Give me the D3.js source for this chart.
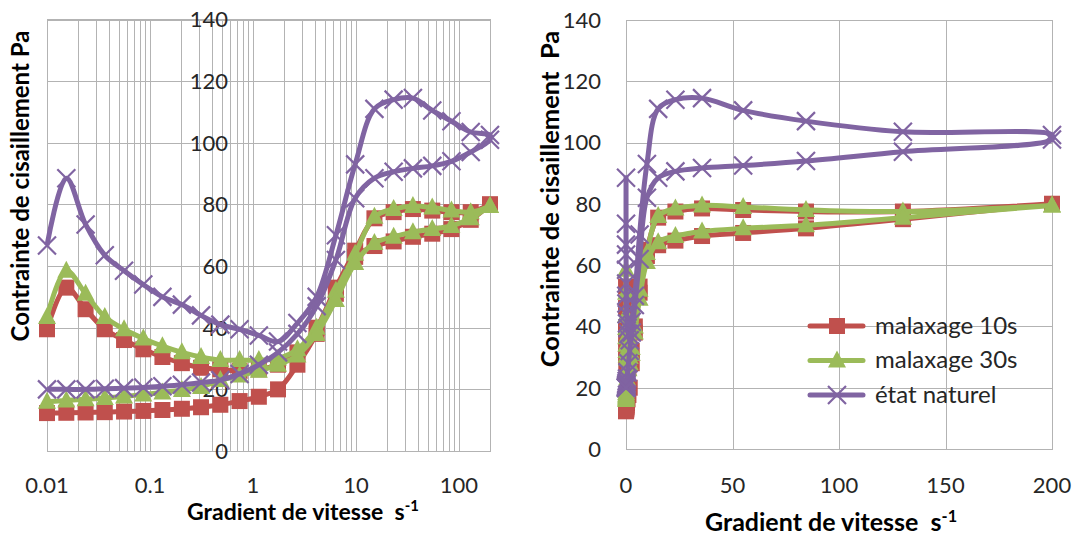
<!DOCTYPE html>
<html>
<head>
<meta charset="utf-8">
<script src="https://cdn.jsdelivr.net/npm/d3@7"></script>
<style>
    body { margin: 0; background: #fff; }
    svg text { font-family: Lato, 'Open Sans', sans-serif; fill: #262626; }
    .grid line, .frame { stroke: #b3b3b3; stroke-width: 1; fill: none; shape-rendering: crispEdges; }
    .tick-label { font-size: 22px; }
    .axis-title { font-weight: bold; fill: #000; white-space: pre; }
    .legend-label { font-size: 24px; }
</style>
</head>
<body>
<svg id="chart" width="1075" height="535"></svg>
<script>
// Shear rates of the sweep (s-1), same for the way up and the way down
const rates = [0.01, 0.0154, 0.0237, 0.0364, 0.056, 0.0861, 0.132, 0.204, 0.313, 0.482, 0.741, 1.14,
    1.75, 2.7, 4.15, 6.38, 9.82, 15.1, 23.2, 35.7, 55, 84.5, 130, 200];

// Shear stress (Pa). "up" = increasing rate, "down" = decreasing rate
const malax10_up   = [39.5, 53, 46, 39.5, 36, 33, 30.5, 28.5, 27, 26.5, 26, 26.5, 28, 32, 40, 53, 65, 75.5, 77.5, 78.5, 78, 77.5, 77.5, 80];
const malax10_down = [12.3, 12.4, 12.5, 12.6, 12.8, 13, 13.3, 13.7, 14.2, 15, 16.2, 17.6, 20, 28, 38, 51, 63, 66.5, 68, 69.5, 70.5, 72, 75, 80];
const malax30_up   = [43.5, 58.5, 51, 43.5, 39.5, 36.5, 34, 32, 30.5, 29.5, 29.5, 29.5, 30, 33, 40, 52, 64, 76, 78.5, 79.5, 79, 78, 77.5, 79.5];
const malax30_down = [16, 16.4, 16.8, 17.2, 17.7, 18.3, 19, 19.8, 20.8, 23, 24.5, 26, 28, 31, 38, 49, 61, 67.5, 69.5, 71, 72, 73, 75.5, 79.5];
const natural_up   = [66.7, 88.5, 73.5, 63.5, 58.5, 54, 50, 47.5, 44, 41, 39.5, 37.5, 35.5, 41.5, 50, 70, 93, 111, 114, 114.5, 110.5, 107, 103.5, 102.5];
const natural_down = [20, 20, 20, 20.2, 20.4, 20.6, 21, 21.5, 22.2, 23, 25, 28, 32, 38, 47, 62, 82, 88.5, 90.6, 91.7, 92.5, 94, 97, 101];

const seriesNames = ['malaxage 10s', 'malaxage 30s', 'état naturel'];
const colors = ['#c0504d', '#9bbb59', '#8064a2'];
const markers = ['square', 'triangle', 'cross'];

const stressTicks = [0, 20, 40, 60, 80, 100, 120, 140];
const logTicks = [0.01, 0.1, 1, 10, 100];
const linTicks = [0, 50, 100, 150, 200];

const series = [
    [malax10_up, malax10_down],
    [malax30_up, malax30_down],
    [natural_up, natural_down]
].map(([up, down], i) => ({
    name: seriesNames[i],
    color: colors[i],
    marker: markers[i],
    // one loop: up the rates, then back down
    points: rates.map((r, j) => [r, up[j]]).concat(rates.map((r, j) => [r, down[j]]).reverse())
}));

const svg = d3.select('#chart');

/* ===== Left chart: log scale ===== */
const logChart = {
    g: svg.append('g'),
    x: d3.scaleLog().domain([0.01, 200]).range([47, 490]),
    y: d3.scaleLinear().domain([0, 140]).range([451, 19.5]),
    yAxisAt: 1,          // vertical axis crosses at 1
    xTicks: logTicks,
    gridX: d3.scaleLog().domain([0.01, 200]).ticks(),
    xTitle: { x: 187, y: 520, size: 23 },
    yTitle: { x: 21, y: 186, size: 24, text: 'Contrainte de cisaillement Pa' }
};

/* ===== Right chart: linear scale ===== */
const linChart = {
    g: svg.append('g'),
    x: d3.scaleLinear().domain([0, 200]).range([626, 1052]),
    y: d3.scaleLinear().domain([0, 140]).range([449, 20]),
    yAxisAt: 0,
    xTicks: linTicks,
    gridX: linTicks,
    xTitle: { x: 705, y: 531, size: 25 },
    yTitle: { x: 550, y: 199, size: 25.5, text: 'Contrainte de cisaillement  Pa' }
};

[logChart, linChart].forEach(drawChart);
drawLegend(linChart);

function drawChart(c) {
    const [x0, x1] = c.x.range();
    const [y0, y1] = c.y.range();

    const grid = c.g.append('g').classed('grid', true);
    grid.selectAll('.vx')
        .data(c.gridX)
        .enter().append('line')
        .attr('x1', d => Math.round(c.x(d)) + 0.5)
        .attr('x2', d => Math.round(c.x(d)) + 0.5)
        .attr('y1', y1)
        .attr('y2', y0);
    grid.selectAll('.hy')
        .data(stressTicks)
        .enter().append('line')
        .attr('x1', x0)
        .attr('x2', x1)
        .attr('y1', d => Math.round(c.y(d)) + 0.5)
        .attr('y2', d => Math.round(c.y(d)) + 0.5);

    c.g.append('rect')
        .classed('frame', true)
        .attr('x', x0)
        .attr('y', y1)
        .attr('width', x1 - x0)
        .attr('height', y0 - y1);

    // Stress labels sit next to the vertical axis
    c.g.selectAll('.ylab')
        .data(stressTicks)
        .enter().append('text')
        .classed('tick-label', true)
        .attr('x', c.x(c.yAxisAt) - 25)
        .attr('y', d => c.y(d))
        .attr('dy', '0.36em')
        .attr('text-anchor', 'end')
        .text(d => d);

    c.g.selectAll('.xlab')
        .data(c.xTicks)
        .enter().append('text')
        .classed('tick-label', true)
        .attr('x', d => c.x(d))
        .attr('y', 493)
        .attr('text-anchor', 'middle')
        .text(d => d);

    // Titles
    const xt = c.g.append('text')
        .classed('axis-title', true)
        .attr('x', c.xTitle.x)
        .attr('y', c.xTitle.y)
        .style('font-size', c.xTitle.size + 'px')
        .text('Gradient de vitesse  s');
    xt.append('tspan')
        .attr('dy', -9)
        .style('font-size', (c.xTitle.size * 0.65) + 'px')
        .text('-1');

    c.g.append('text')
        .classed('axis-title', true)
        .attr('transform', `translate(${c.yTitle.x},${c.yTitle.y}) rotate(-90)`)
        .attr('text-anchor', 'middle')
        .attr('dy', '0.35em')
        .style('font-size', c.yTitle.size + 'px')
        .text(c.yTitle.text);

    const line = d3.line()
        .x(d => c.x(d[0]))
        .y(d => c.y(d[1]))
        .curve(d3.curveCatmullRom.alpha(0.5)); // smoothed like Excel, less overshoot

    const sg = c.g.selectAll('.series')
        .data(series)
        .enter().append('g')
        .classed('series', true);

    sg.append('path')
        .attr('d', d => line(d.points))
        .attr('fill', 'none')
        .attr('stroke', d => d.color)
        .attr('stroke-width', 5)
        .attr('stroke-linejoin', 'round');

    sg.each(function(s) {
        d3.select(this).selectAll('.mark')
            .data(s.points)
            .enter().append('path')
            .attr('transform', d => `translate(${c.x(d[0])},${c.y(d[1])})`)
            .call(drawMarker, s);
    });
}

function drawMarker(sel, s) {
    if (s.marker == 'square') {
        sel.attr('d', 'M-8,-8H8V8H-8Z').attr('fill', s.color);
    } else if (s.marker == 'triangle') {
        sel.attr('d', 'M0,-10L9,7H-9Z').attr('fill', s.color);
    } else {
        sel.attr('d', 'M-9,-9L9,9M-9,9L9,-9')
            .attr('fill', 'none')
            .attr('stroke', s.color)
            .attr('stroke-width', 2.2);
    }
}

function drawLegend(c) {
    const lg = c.g.append('g');
    const rows = lg.selectAll('g')
        .data(series)
        .enter().append('g')
        .attr('transform', (d, i) => `translate(810,${326 + i * 34.5})`);
    rows.append('line')
        .attr('x1', 0)
        .attr('x2', 53)
        .attr('stroke', d => d.color)
        .attr('stroke-width', 5)
        .attr('stroke-linecap', 'round');
    rows.append('path')
        .attr('transform', 'translate(27,0)')
        .each(function(s) { d3.select(this).call(drawMarker, s); });
    rows.append('text')
        .classed('legend-label', true)
        .attr('x', 65)
        .attr('dy', '0.33em')
        .text(d => d.name);
}
</script>
</body>
</html>
